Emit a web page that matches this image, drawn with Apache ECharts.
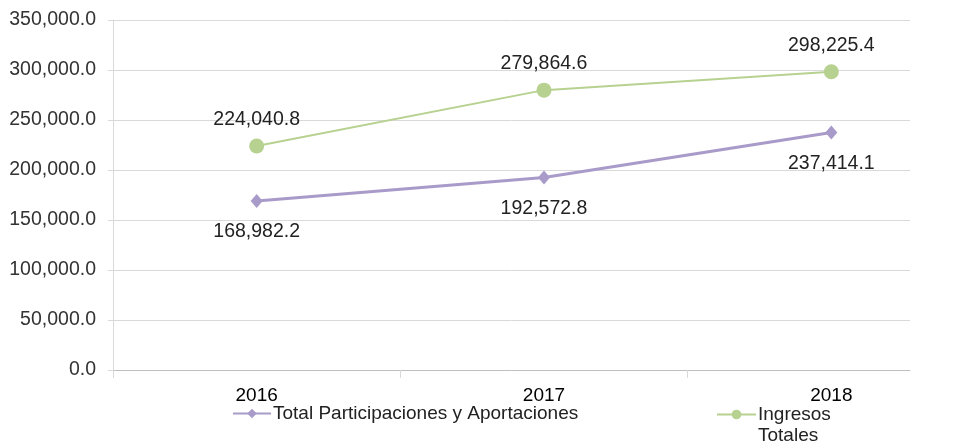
<!DOCTYPE html>
<html>
<head>
<meta charset="utf-8">
<script src="https://cdn.jsdelivr.net/npm/echarts@6/dist/echarts.min.js"></script>
<style>html,body{margin:0;padding:0;background:#fff}#c{width:960px;height:445px}</style>
</head>
<body>
<div id="c"></div>
<script>
const categories = ['2016', '2017', '2018'];
const participaciones = [168982.2, 192572.8, 237414.1];
const ingresos = [224040.8, 279864.6, 298225.4];
const yTicks = { min: 0, max: 350000, interval: 50000 };
const nameA = 'Total Participaciones y Aportaciones';
const nameB = 'Ingresos Totales';

const FONT = '"Liberation Sans", Arial, sans-serif';
const fmt = v => v.toLocaleString('en-US', { minimumFractionDigits: 1, maximumFractionDigits: 1 });

const chart = echarts.init(document.getElementById('c'), null, { renderer: 'canvas' });
chart.setOption({
  animation: false,
  backgroundColor: '#fff',
  grid: [
    { left: 113, width: 862, top: 20, height: 350, outerBoundsMode: 'none', containLabel: false },
    { left: 113, width: 797, top: 20, height: 350, outerBoundsMode: 'none', containLabel: false }
  ],
  xAxis: [
    { type: 'category', gridIndex: 0, data: categories, boundaryGap: true,
      axisLine: { show: false },
      axisTick: { show: true, length: 8, lineStyle: { color: '#d9d9d9' } },
      axisLabel: { fontFamily: FONT, fontSize: 19, color: '#000', margin: 16 },
      splitLine: { show: false } },
    { type: 'category', gridIndex: 1, data: categories,
      axisLine: { show: true, lineStyle: { color: '#bfbfbf', width: 1 } },
      axisTick: { show: false }, axisLabel: { show: false }, splitLine: { show: false } }
  ],
  yAxis: [
    { type: 'value', gridIndex: 0, min: yTicks.min, max: yTicks.max, interval: yTicks.interval,
      show: false, splitLine: { show: false } },
    { type: 'value', gridIndex: 1, min: yTicks.min, max: yTicks.max, interval: yTicks.interval,
      axisLine: { show: true, lineStyle: { color: '#d9d9d9' } },
      axisTick: { show: true, length: 5, lineStyle: { color: '#d9d9d9' } },
      axisLabel: { fontFamily: FONT, fontSize: 19.5, color: '#333', margin: 17, formatter: v => fmt(v) },
      splitLine: { show: true, lineStyle: { color: '#d9d9d9', width: 1 } } }
  ],
  legend: [
    { data: [nameA], left: 232, top: 404, padding: 0, itemWidth: 38, itemHeight: 12, itemGap: 5,
      textStyle: { fontFamily: FONT, fontSize: 19, color: '#222', padding: [0,0,0,-3] } },
    { data: [nameB], left: 716, top: 383, padding: 0, itemWidth: 39, itemHeight: 12,
      formatter: n => '\n' + n.replace(' ', '\n'),
      textStyle: { fontFamily: FONT, fontSize: 19, color: '#222', lineHeight: 21, padding: [0,0,0,-3] } }
  ],
  series: [
    { name: nameA, type: 'line', xAxisIndex: 0, yAxisIndex: 0, data: participaciones,
      symbol: 'diamond', symbolSize: [12, 14], showAllSymbol: true,
      lineStyle: { color: '#a99bc9', width: 3 }, itemStyle: { color: '#a99bc9' },
      label: { show: true, position: 'bottom', distance: 14, fontFamily: FONT, fontSize: 19.5, color: '#222', formatter: p => fmt(p.value) } },
    { name: nameB, type: 'line', xAxisIndex: 0, yAxisIndex: 0, data: ingresos,
      symbol: 'circle', symbolSize: 15,
      lineStyle: { color: '#b7d190', width: 2 }, itemStyle: { color: '#b7d190' },
      label: { show: true, position: 'top', distance: 9, fontFamily: FONT, fontSize: 19.5, color: '#222', formatter: p => fmt(p.value) } }
  ]
});
</script>
</body>
</html>
